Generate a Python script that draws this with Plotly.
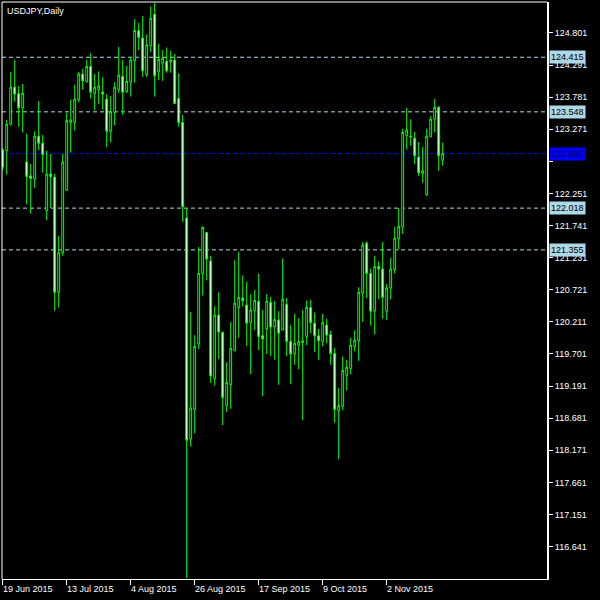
import pandas as pd
import plotly.graph_objects as go

symbol_title = "USDJPY,Daily"

opens = [122.94,122.93,123.35,123.94,123.84,123.61,122.75,122.53,122.48,123.16,
         123.05,121.98,122.56,122.51,120.68,121.31,122.30,123.38,123.38,123.74,
         124.15,124.03,124.27,123.84,123.90,123.86,123.75,123.24,123.54,123.90,
         124.11,123.87,124.02,124.36,124.84,124.72,124.14,124.60,125.10,124.19,
         124.32,124.35,124.34,124.37,123.76,123.38,121.86,118.35,118.82,119.86,
         120.98,121.63,121.18,119.31,120.32,120.04,118.88,119.21,119.75,120.44,
         120.59,120.48,120.20,120.39,120.54,119.99,120.10,120.52,120.13,120.24,
         120.08,120.49,119.90,119.70,119.84,119.88,119.98,120.44,120.19,119.99,
         119.90,120.16,120.01,119.71,118.80,118.87,119.36,119.47,119.82,119.91,
         120.67,121.46,120.98,120.38,121.09,121.05,120.38,120.75,121.04,121.53,
         121.72,123.17,123.16,123.13,122.83,122.57,122.23,123.15,123.43,123.62,
         122.78]
highs = [122.97,123.42,124.18,124.37,123.96,123.99,123.20,122.72,123.24,123.72,
         123.18,122.93,122.88,122.56,121.58,122.88,123.53,123.74,123.98,124.18,
         124.23,124.37,124.48,124.15,124.19,124.10,123.83,123.80,124.02,124.58,
         124.37,124.28,124.42,125.02,124.96,125.07,124.78,125.22,125.28,124.63,
         124.53,124.57,124.52,124.47,124.16,123.50,122.02,120.37,120.00,121.40,
         121.73,121.64,121.26,120.46,120.68,120.06,119.57,120.21,121.19,121.32,
         120.95,120.85,120.65,120.72,120.98,120.40,120.65,120.61,120.54,120.38,
         121.22,120.59,120.16,120.34,120.27,120.40,120.55,120.56,120.36,120.10,
         120.34,120.26,120.07,119.80,119.16,119.66,119.61,119.96,120.08,120.76,
         121.48,121.49,121.06,121.26,121.17,121.48,120.81,121.23,121.72,122.02,
         123.28,123.61,123.43,123.23,123.07,122.99,123.28,123.48,123.75,123.64,
         123.06]
lows = [122.62,122.55,123.33,123.71,123.31,123.22,122.08,121.93,122.34,122.94,
        122.58,121.83,122.02,120.39,120.44,121.26,122.30,122.90,123.25,123.70,
        123.90,124.01,123.76,123.57,123.67,123.58,122.99,123.06,123.33,123.85,
        123.50,123.85,123.79,124.01,124.53,124.10,124.10,124.50,123.79,124.05,
        124.04,124.17,124.17,123.67,123.31,121.80,116.14,118.23,118.44,119.78,
        120.63,120.87,119.24,119.20,119.62,118.57,118.78,118.83,119.75,119.96,
        120.45,119.83,119.38,120.08,119.76,119.03,119.70,119.67,119.61,119.21,
        120.08,119.67,119.22,119.53,119.46,118.65,119.84,120.03,119.73,119.61,
        119.82,119.87,119.53,118.61,118.03,118.81,119.12,119.38,119.74,119.59,
        120.21,120.59,120.15,120.01,120.57,120.26,120.24,120.57,120.98,121.36,
        121.61,122.95,123.01,122.72,122.53,122.42,122.21,123.15,123.22,122.61,
        122.69]
closes = [122.67,123.35,123.94,123.83,123.61,123.84,122.52,122.49,123.16,123.05,
          122.87,122.56,122.52,120.68,121.31,122.75,123.41,123.42,123.75,124.15,
          124.04,124.27,123.86,123.94,123.96,123.83,123.24,123.55,123.94,124.13,
          123.86,124.03,124.37,124.84,124.73,124.20,124.61,125.03,124.12,124.38,
          124.40,124.20,124.37,123.68,123.38,122.04,118.33,118.84,119.82,120.98,
          121.71,121.21,119.35,120.32,120.05,119.01,119.25,119.79,120.51,120.60,
          120.55,120.19,120.40,120.55,119.98,119.94,120.54,120.13,120.25,120.03,
          120.57,119.90,119.70,119.87,119.90,119.91,120.44,120.20,119.99,119.91,
          120.20,120.00,119.71,118.82,118.88,119.44,119.49,119.84,119.92,120.68,
          121.43,120.98,120.38,121.09,121.05,120.60,120.75,121.05,121.54,121.73,
          123.22,123.26,123.15,122.85,122.58,122.61,123.16,123.43,123.62,122.85,
          122.885]

first_day = "2015-06-19"
date_tick_values = ["2015-06-19", "2015-07-13", "2015-08-04", "2015-08-26",
                    "2015-09-17", "2015-10-09", "2015-11-02"]
date_tick_labels = ["19 Jun 2015", "13 Jul 2015", "4 Aug 2015", "26 Aug 2015",
                    "17 Sep 2015", "9 Oct 2015", "2 Nov 2015"]

price_tick_values = [124.801, 124.291, 123.781, 123.271, 122.761, 122.251,
                     121.741, 121.231, 120.721, 120.211, 119.701, 119.191,
                     118.681, 118.171, 117.661, 117.151, 116.641]
price_tick_labels = ["124.801", "124.291", "123.781", "123.271", "", "122.251",
                     "121.741", "121.231", "120.721", "120.211", "119.701",
                     "119.191", "118.681", "118.171", "117.661", "117.151",
                     "116.641"]

level_values = [124.415, 123.548, 122.018, 121.355]
level_labels = ["124.415", "123.548", "122.018", "121.355"]
bid_value = 122.885
bid_label = "122.885"

y_range = [116.126, 125.293]

dates = [d.strftime("%Y-%m-%d") for d in pd.bdate_range(first_day, periods=len(opens))]

FONT = "Liberation Sans, Arial, sans-serif"
GREEN = "#00ff00"
LIGHTBLUE = "#add8e6"

fig = go.Figure()
fig.add_trace(go.Candlestick(
    x=dates, open=opens, high=highs, low=lows, close=closes,
    increasing=dict(line=dict(color=GREEN, width=1), fillcolor="#000000"),
    decreasing=dict(line=dict(color=GREEN, width=1), fillcolor="#ffffff"),
    whiskerwidth=0, showlegend=False, hoverinfo="skip",
))

shapes = []
for lv in level_values:
    shapes.append(dict(type="line", xref="paper", x0=0, x1=1, yref="y", y0=lv, y1=lv,
                       line=dict(color=LIGHTBLUE, width=1, dash="4px,3px"), layer="below"))
shapes.append(dict(type="line", xref="paper", x0=0, x1=1, yref="y", y0=bid_value, y1=bid_value,
                   line=dict(color="#0000ff", width=1, dash="4px,3px"), layer="below"))
shapes.append(dict(type="line", xref="paper", yref="paper", x0=0, x1=0, y0=0, y1=1,
                   line=dict(color="white", width=1)))
shapes.append(dict(type="line", xref="paper", yref="paper", x0=0, x1=1, y0=1, y1=1,
                   line=dict(color="white", width=1)))

annotations = []
for lv, lab in zip(level_values, level_labels):
    annotations.append(dict(x=1, xref="paper", y=lv, yref="y", text=lab, showarrow=False,
                            xanchor="left", yanchor="middle", xshift=2,
                            bgcolor=LIGHTBLUE, borderpad=1,
                            font=dict(family=FONT, size=9, color="black")))
annotations.append(dict(x=1, xref="paper", y=bid_value, yref="y", text=bid_label, showarrow=False,
                        xanchor="left", yanchor="middle", xshift=2,
                        bgcolor="#0000ff", borderpad=1,
                        font=dict(family=FONT, size=9, color="#00003c")))
for dv, dl in zip(date_tick_values, date_tick_labels):
    annotations.append(dict(x=dv, xref="x", y=0, yref="paper", text=dl, showarrow=False,
                            xanchor="left", yanchor="top", xshift=-2, yshift=-3,
                            font=dict(family=FONT, size=9, color="white")))
annotations.append(dict(x=0, xref="paper", y=1, yref="paper", text=symbol_title, showarrow=False,
                        xanchor="left", yanchor="top", xshift=3, yshift=-2,
                        font=dict(family=FONT, size=9, color="white")))

fig.update_layout(
    width=600, height=600,
    paper_bgcolor="black", plot_bgcolor="black",
    margin=dict(l=2, r=53, t=2, b=21),
    shapes=shapes, annotations=annotations,
    boxgap=0.35,
    xaxis=dict(type="category", range=[-0.175, 136.075], rangeslider=dict(visible=False),
               showgrid=False, zeroline=False, showline=True, linecolor="white", linewidth=1,
               ticks="outside", ticklen=5, tickcolor="white", tickwidth=1,
               tickvals=date_tick_values, showticklabels=False),
    yaxis=dict(side="right", range=y_range, showgrid=False, zeroline=False,
               showline=True, linecolor="white", linewidth=2,
               ticks="outside", ticklen=4, tickcolor="white", tickwidth=1,
               tickvals=price_tick_values, ticktext=price_tick_labels,
               tickfont=dict(family=FONT, size=9, color="white")),
)

fig.write_html("out.html", config={"displayModeBar": False},
               post_script="document.body.style.margin='0px';document.body.style.overflow='hidden';")
